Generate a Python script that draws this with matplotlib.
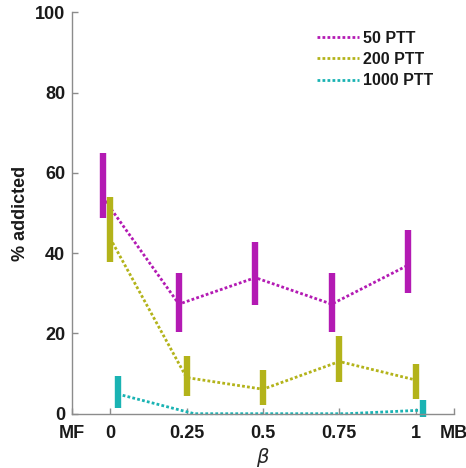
import matplotlib
matplotlib.use('Agg')
import matplotlib.pyplot as plt
import numpy as np

plt.rcParams['font.family'] = ['Liberation Sans', 'DejaVu Sans']

# beta values and group labels
beta = [0, 0.25, 0.5, 0.75, 1]
labels = ['50 PTT', '200 PTT', '1000 PTT']
colors = ['#b31ab3', '#b3b31a', '#1ab3b3']
offsets = [-0.025, 0, 0.025]

# % addicted: mean, lower, upper
mean_50 = [54, 27.3, 33.9, 27.3, 37.0]
low_50 = [48.7, 20.4, 27.1, 20.4, 30.0]
high_50 = [65.0, 35.1, 42.7, 35.1, 45.8]

mean_200 = [43.7, 9.0, 6.1, 13.0, 8.4]
low_200 = [37.7, 4.4, 2.1, 7.8, 3.7]
high_200 = [54.1, 14.5, 10.8, 19.4, 12.3]

mean_1000 = [4.9, 0, 0, 0, 0.9]
low_1000 = [1.3, 0, 0, 0, -0.7]
high_1000 = [9.4, 0, 0, 0, 3.4]

means = [mean_50, mean_200, mean_1000]
lows = [low_50, low_200, low_1000]
highs = [high_50, high_200, high_1000]

xticks = [-0.125, 0, 0.25, 0.5, 0.75, 1, 1.125]
xticklabels = ['MF', '0', '0.25', '0.5', '0.75', '1', 'MB']

fig = plt.figure(figsize=(4.66, 4.68), dpi=100)
ax = fig.add_axes([0.1545, 0.116, 0.8195, 0.8577])

for m, lo, hi, c, off, lab in zip(means, lows, highs, colors, offsets, labels):
    x = np.array(beta) + off
    ax.plot(x, m, linestyle=(0, (1, 0.8)), color=c, linewidth=2, label=lab, clip_on=False)
    ax.vlines(x, lo, hi, color=c, linewidth=4.6, capstyle='butt', clip_on=False)

ax.set_xlim(-0.125, 1.125)
ax.set_ylim(0, 100)
ax.set_xticks(xticks)
ax.set_xticklabels(xticklabels)
ax.set_yticks([0, 20, 40, 60, 80, 100])

for s in ['top', 'right']:
    ax.spines[s].set_visible(False)
for s in ['left', 'bottom']:
    ax.spines[s].set_color('#8c8c8c')
    ax.spines[s].set_linewidth(1)

ax.tick_params(direction='in', length=4, width=1, color='#8c8c8c', labelsize=13)
ax.tick_params(axis='x', pad=8)
ax.tick_params(axis='y', pad=5)
for t in ax.get_xticklabels() + ax.get_yticklabels():
    t.set_fontweight('bold')
    t.set_color('#1a1a1a')

ax.set_ylabel('% addicted', fontsize=13, fontweight='bold', color='#1a1a1a', labelpad=4)
ax.set_xlabel(r'$\beta$', fontsize=14, color='#262626', labelpad=3)

leg = ax.legend(loc='upper left', bbox_to_anchor=(0.605, 0.99), frameon=False,
                handlelength=2.6, handletextpad=0.25, labelspacing=0.4,
                prop={'size': 11.5, 'weight': 'bold'})
for t in leg.get_texts():
    t.set_color('#1a1a1a')

fig.savefig('out.png', dpi=100)
